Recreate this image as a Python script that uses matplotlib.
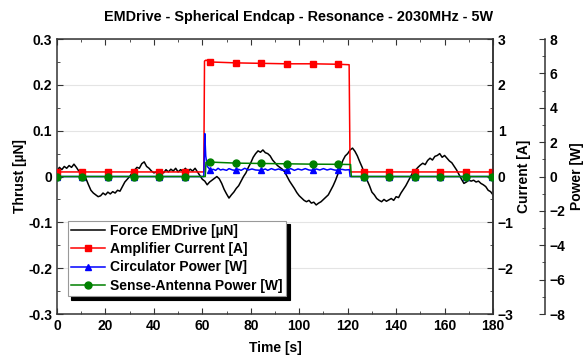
import numpy as np
import matplotlib
matplotlib.use('Agg')
import matplotlib.pyplot as plt
from matplotlib.ticker import MultipleLocator

plt.rcParams['font.family'] = ['Liberation Sans', 'DejaVu Sans']
plt.rcParams['font.weight'] = 'bold'

# ---- dati ----
# thrust (asse sinistro), un valore al secondo da 0 a 180 s
thrust_t = np.arange(0, 181)
thrust_v = [
    0.012, 0.020, 0.015, 0.022, 0.018, 0.024, 0.020, 0.027, 0.020, 0.012,
    0.008, 0.004, -0.005, -0.018, -0.030, -0.036, -0.040, -0.044, -0.042, -0.036,
    -0.040, -0.034, -0.038, -0.033, -0.036, -0.030, -0.032, -0.022, -0.012, -0.006,
    0.000, 0.008, 0.014, 0.020, 0.018, 0.028, 0.032, 0.022, 0.018, 0.012,
    0.008, 0.010, 0.006, 0.012, 0.008, 0.015, 0.010, 0.016, 0.012, 0.018,
    0.010, 0.015, 0.012, 0.018, 0.011, 0.016, 0.012, 0.018, 0.010, 0.002,
    -0.006, -0.010, -0.018, -0.012, -0.008, -0.004, 0.000, -0.005, -0.015, -0.028,
    -0.038, -0.047, -0.040, -0.034, -0.026, -0.020, -0.010, 0.000, 0.008, 0.020,
    0.030, 0.042, 0.050, 0.056, 0.053, 0.058, 0.052, 0.050, 0.045, 0.036,
    0.030, 0.024, 0.020, 0.016, 0.010, 0.000, -0.010, -0.018, -0.026, -0.035,
    -0.042, -0.047, -0.052, -0.055, -0.052, -0.058, -0.056, -0.062, -0.058, -0.055,
    -0.050, -0.045, -0.040, -0.030, -0.020, -0.008, 0.006, 0.020, 0.035, 0.045,
    0.050, 0.058, 0.062, 0.055, 0.045, 0.032, 0.020, 0.005, -0.008, -0.020,
    -0.034, -0.040, -0.048, -0.052, -0.055, -0.050, -0.054, -0.051, -0.048, -0.052,
    -0.044, -0.046, -0.036, -0.028, -0.020, -0.010, 0.000, 0.010, 0.014, 0.020,
    0.025, 0.029, 0.026, 0.035, 0.040, 0.036, 0.044, 0.046, 0.050, 0.042,
    0.046, 0.040, 0.034, 0.030, 0.022, 0.014, 0.004, -0.006, -0.015, -0.012,
    -0.008, -0.010, -0.008, -0.012, -0.010, -0.015, -0.018, -0.022, -0.030, -0.033,
    -0.040,
]

# tempi dei marker (uguali per le tre serie)
mark_t = [0, 10.5, 21.1, 31.6, 42.2, 52.7, 63.3, 73.9, 84.4, 95.0, 105.5, 116.1,
          126.6, 137.2, 147.7, 158.3, 168.8, 179.4]

# corrente amplificatore [A]
cur_t = [0, 10.5, 21.1, 31.6, 42.2, 52.7, 60.6, 60.9, 61.5, 63.3, 73.9, 84.4, 95.0,
         105.5, 116.1, 120.6, 121.0, 126.6, 137.2, 147.7, 158.3, 168.8, 179.4, 180]
cur_v = [0.1, 0.1, 0.1, 0.1, 0.1, 0.1, 0.1, 2.52, 2.54, 2.50, 2.48, 2.47, 2.46,
         2.46, 2.45, 2.44, 0.1, 0.1, 0.1, 0.1, 0.1, 0.1, 0.1, 0.1]

# potenza circolatore [W]
circ_t = [0, 10.5, 21.1, 31.6, 42.2, 52.7, 60.6, 61.0, 61.4, 62.0, 63.3, 64.5, 65.5,
          66.5, 67.5, 68.5, 70, 71, 72.5, 73.9, 75, 76, 77.5, 79, 80.5, 82, 84.4,
          86, 87, 88.5, 90, 91.5, 93, 95.0, 96.5, 98, 99.5, 101, 102.5, 104, 105.5,
          107, 108.5, 110, 111.5, 113, 114.5, 116.1, 117.5, 119, 120.7, 121.0,
          126.6, 137.2, 147.7, 158.3, 168.8, 179.4, 180]
circ_v = [0, 0, 0, 0, 0, 0, 0, 2.5, 1.2, 0.6, 0.38, 0.42, 0.36,
          0.48, 0.38, 0.42, 0.36, 0.46, 0.38, 0.36, 0.42, 0.36, 0.48, 0.38, 0.44, 0.38, 0.36,
          0.44, 0.36, 0.46, 0.38, 0.44, 0.36, 0.38, 0.46, 0.36, 0.44, 0.38, 0.46, 0.38, 0.36,
          0.44, 0.38, 0.46, 0.38, 0.44, 0.38, 0.36, 0.42, 0.38, 0.40, 0,
          0, 0, 0, 0, 0, 0, 0]

# potenza antenna [W]
ant_t = [0, 10.5, 21.1, 31.6, 42.2, 52.7, 60.6, 61.2, 61.5, 63.3, 73.9, 84.4, 95.0,
         105.5, 116.1, 121.2, 121.5, 126.6, 137.2, 147.7, 158.3, 168.8, 179.4, 180]
ant_v = [0, 0, 0, 0, 0, 0, 0, 0, 0.82, 0.84, 0.78, 0.76, 0.74,
         0.72, 0.71, 0.70, 0, 0, 0, 0, 0, 0, 0, 0]


def mark_idx(t):
    return list(np.where(np.isin(np.round(t, 1), mark_t))[0])


fig = plt.figure(figsize=(5.84, 3.58), dpi=100)
ax = fig.add_axes([0.0976, 0.1229, 0.7466, 0.768])
ax2 = ax.twinx()
ax3 = ax.twinx()

spine_col = '#333333'
fs = 10

l1, = ax.plot(thrust_t, thrust_v, color='black', lw=1.1, label='Force EMDrive [µN]')
l2, = ax2.plot(cur_t, cur_v, color='red', lw=1.1, marker='s', ms=5,
               markevery=mark_idx(cur_t), label='Amplifier Current [A]')
l3, = ax3.plot(circ_t, circ_v, color='blue', lw=1.1, marker='^', ms=5,
               markevery=mark_idx(circ_t), label='Circulator Power [W]')
l4, = ax3.plot(ant_t, ant_v, color='green', lw=1.1, marker='o', ms=5,
               markevery=mark_idx(ant_t), label='Sense-Antenna Power [W]')

ax.set_xlim(0, 180)
ax.set_ylim(-0.3, 0.3)
ax2.set_ylim(-3, 3)
ax3.set_ylim(-8, 8)

ax.xaxis.set_major_locator(MultipleLocator(20))
ax.xaxis.set_minor_locator(MultipleLocator(10))
ax.yaxis.set_minor_locator(MultipleLocator(0.05))
ax2.yaxis.set_major_locator(MultipleLocator(1))
ax2.yaxis.set_minor_locator(MultipleLocator(0.5))
ax3.yaxis.set_major_locator(MultipleLocator(2))
ax3.yaxis.set_minor_locator(MultipleLocator(1))

ax.set_yticks(np.arange(-0.3, 0.31, 0.1))
ax.set_yticklabels(['-0.3', '-0.2', '-0.1', '0', '0.1', '0.2', '0.3'])

ax.grid(axis='y', which='major', color='#e4e4e4', lw=0.8)
ax.set_axisbelow(True)

for a in (ax, ax2, ax3):
    for s in a.spines.values():
        s.set_color(spine_col)
        s.set_linewidth(1.1)
    a.tick_params(which='both', direction='in', colors=spine_col,
                  labelcolor='black', labelsize=fs)
    a.tick_params(which='major', length=4)
    a.tick_params(which='minor', length=2.5)
ax.tick_params(axis='x', which='both', top=True)

# 52 px fuori dal bordo destro
ax3.spines['right'].set_position(('outward', 52 * 72 / 100))
for s in ('left', 'top', 'bottom'):
    ax3.spines[s].set_visible(False)
    ax2.spines[s].set_visible(False)

ax.set_xlabel('Time [s]', fontsize=fs, fontweight='bold')
ax.set_ylabel('Thrust [µN]', fontsize=fs, fontweight='bold')
ax2.set_ylabel('Current [A]', fontsize=fs, fontweight='bold')
ax3.set_ylabel('Power [W]', fontsize=fs, fontweight='bold')
ax.xaxis.set_label_coords(0.5, -0.098)
ax.yaxis.set_label_coords(-0.068, 0.5)
ax2.yaxis.set_label_coords(1.056, 0.5)
ax3.yaxis.set_label_coords(1.176, 0.5)

fig.text(0.512, 0.952, 'EMDrive - Spherical Endcap - Resonance - 2030MHz - 5W',
         ha='center', va='center', fontsize=10.4, fontweight='bold')

leg = ax3.legend(handles=[l1, l2, l3, l4], loc='lower left',
                 bbox_to_anchor=(0.025, 0.065), fontsize=fs, fancybox=False,
                 framealpha=1, edgecolor='#999999', borderpad=0.25,
                 labelspacing=0.3, handlelength=2.4, handletextpad=0.4,
                 borderaxespad=0,
                 shadow={'ox': 2.5, 'oy': -2.5, 'color': 'black', 'alpha': 1})
leg.get_frame().set_linewidth(0.8)

plt.savefig('out.png', dpi=100)
